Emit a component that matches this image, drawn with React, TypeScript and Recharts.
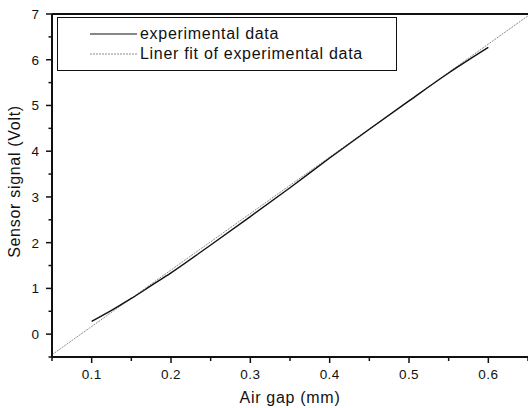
import { LineChart, Line, XAxis, YAxis, ReferenceLine, Legend } from 'recharts';

const gapMm = [0.1, 0.125, 0.15, 0.175, 0.2, 0.25, 0.3, 0.35, 0.4, 0.45, 0.5, 0.55, 0.6];
const signalVolt = [0.28, 0.52, 0.78, 1.06, 1.34, 1.95, 2.57, 3.2, 3.85, 4.48, 5.1, 5.71, 6.27];

// linear fit end points
const fitGapMm = [0.05, 0.65];
const fitVolt = [-0.45, 6.96];

const xTicks = [0.05, 0.1, 0.15, 0.2, 0.25, 0.3, 0.35, 0.4, 0.45, 0.5, 0.55, 0.6, 0.65];
const yTicks = [-0.5, 0, 0.5, 1, 1.5, 2, 2.5, 3, 3.5, 4, 4.5, 5, 5.5, 6, 6.5, 7];

const seriesNames = ['experimental data', 'Liner fit of experimental data'];

const INK = '#111';
const FIT = '#8c8c8c';
const FONT = '"Liberation Sans", Arial, sans-serif';

const expData = gapMm.map((x, i) => ({ x, y: signalVolt[i] }));
const fitData = fitGapMm.map((x, i) => ({ x, y: fitVolt[i] }));

const isWhole = (v: number, step: number) => Math.abs(v / step - Math.round(v / step)) < 1e-6;

function XTick({ x, y, payload }: any) {
  const v = payload.value;
  const major = isWhole(v, 0.1);
  return (
    <g>
      <line x1={x} x2={x} y1={y} y2={y + (major ? 6 : 4)} stroke={INK} strokeWidth={1.5} />
      {major && (
        <text x={x} y={y + 22} textAnchor="middle" fill={INK} fontSize={13.5} letterSpacing={0.4} fontFamily={FONT}>
          {v.toFixed(1)}
        </text>
      )}
    </g>
  );
}

function YTick({ x, y, payload }: any) {
  const v = payload.value;
  const major = isWhole(v, 1);
  return (
    <g>
      <line x1={x - (major ? 6 : 3.5)} x2={x} y1={y} y2={y} stroke={INK} strokeWidth={1.5} />
      {major && (
        <text x={x - 13} y={y + 5} textAnchor="end" fill={INK} fontSize={13.5} fontFamily={FONT}>
          {v}
        </text>
      )}
    </g>
  );
}

function LegendBox() {
  const row = (name: string, color: string, dash?: string) => (
    <div key={name} style={{ display: 'flex', alignItems: 'center', height: 20 }}>
      <svg width={47} height={4} style={{ marginLeft: 32, marginRight: 3 }}>
        <line x1={0} x2={47} y1={2} y2={2} stroke={color} strokeWidth={1.2} strokeDasharray={dash} />
      </svg>
      <span style={{ fontSize: 16, letterSpacing: 0.7, color: INK, fontFamily: FONT, whiteSpace: 'nowrap' }}>{name}</span>
    </div>
  );
  return (
    <div
      style={{
        boxSizing: 'border-box',
        width: 340,
        height: 54,
        border: `1.5px solid ${INK}`,
        paddingTop: 5.5,
        background: '#fff',
      }}
    >
      {row(seriesNames[0], INK)}
      {row(seriesNames[1], FIT, '2 1')}
    </div>
  );
}

export default function App() {
  return (
    <div style={{ position: 'absolute', left: 0, top: 0, background: '#fff' }}>
      <LineChart width={528} height={408} margin={{ top: 14, right: 0, bottom: 0, left: 0 }}>
        <XAxis
          type="number"
          dataKey="x"
          domain={[0.05, 0.65]}
          ticks={xTicks}
          interval={0}
          tickSize={0}
          tickMargin={0}
          tickLine={false}
          tick={<XTick />}
          height={51}
          axisLine={{ stroke: INK, strokeWidth: 2 }}
          label={{
            value: 'Air gap (mm)',
            position: 'insideBottom',
            offset: 5,
            fill: INK,
            fontSize: 16,
            letterSpacing: 0.7,
            fontFamily: FONT,
          }}
        />
        <YAxis
          type="number"
          domain={[-0.5, 7]}
          ticks={yTicks}
          interval={0}
          tickSize={0}
          tickMargin={0}
          tickLine={false}
          tick={<YTick />}
          width={52}
          axisLine={{ stroke: INK, strokeWidth: 2 }}
          label={{
            value: 'Sensor signal (Volt)',
            angle: -90,
            position: 'insideLeft',
            offset: 14,
            dy: -4,
            fill: INK,
            fontSize: 16,
            letterSpacing: 0.7,
            fontFamily: FONT,
            style: { textAnchor: 'middle' },
          }}
        />
        <ReferenceLine y={7} stroke={INK} strokeWidth={2} />
        <Line
          data={fitData}
          dataKey="y"
          name={seriesNames[1]}
          stroke={FIT}
          strokeWidth={1}
          strokeDasharray="2 1"
          dot={false}
          isAnimationActive={false}
        />
        <Line
          data={expData}
          dataKey="y"
          name={seriesNames[0]}
          type="monotone"
          stroke={INK}
          strokeWidth={1.4}
          dot={false}
          isAnimationActive={false}
        />
        <Legend
          layout="vertical"
          align="center"
          verticalAlign="middle"
          content={<LegendBox />}
          wrapperStyle={{ left: 57, top: 17, width: 340, height: 54 }}
        />
      </LineChart>
    </div>
  );
}
